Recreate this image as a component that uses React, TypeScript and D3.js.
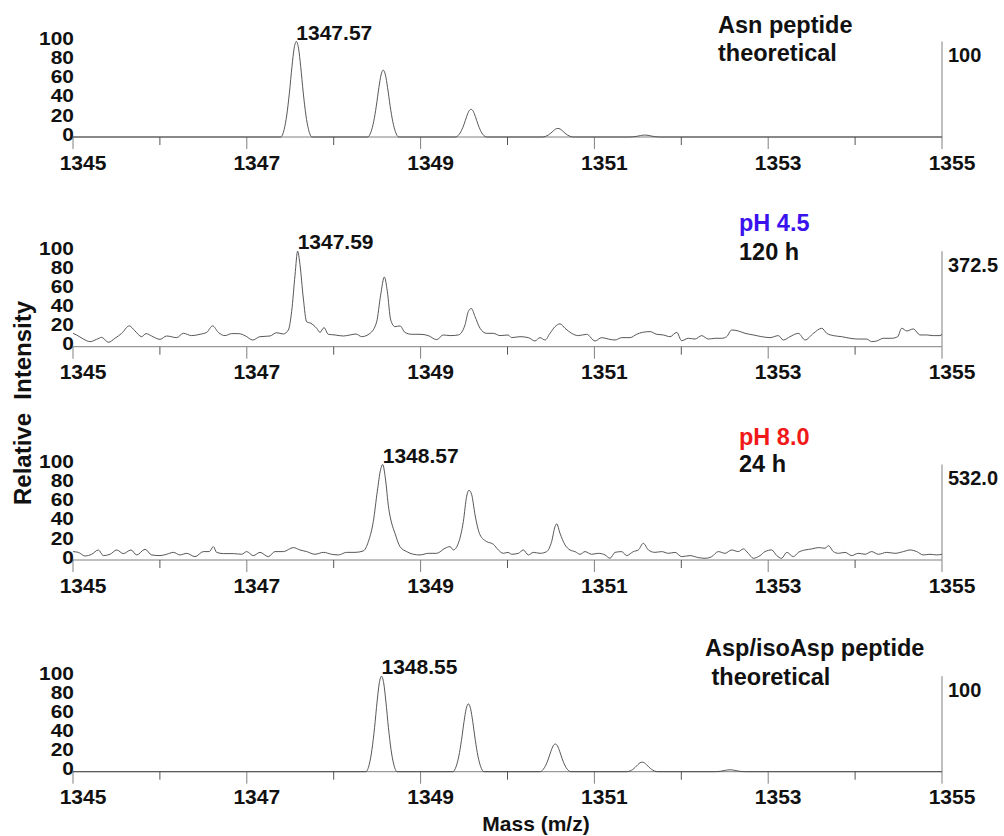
import React from 'react'
import * as d3 from 'd3'

// m/z axis
const massDomain: [number, number] = [1345, 1355]
const majorTicks = [1345, 1347, 1349, 1351, 1353, 1355]
const minorTicks = [1346, 1348, 1350, 1352, 1354]
const intensityTicks = [0, 20, 40, 60, 80, 100]

// theoretical isotope envelopes (centroid m/z, relative intensity)
const asnPeakMz = [1347.57, 1348.57, 1349.58, 1350.58, 1351.58]
const asnPeakInt = [100, 70, 29, 9, 2]
const aspPeakMz = [1348.55, 1349.55, 1350.55, 1351.55, 1352.56]
const aspPeakInt = [100, 71, 29, 10, 2]

// peak profile (offset in m/z, fraction of height)
const peakShapeOffset = [-0.18, -0.14, -0.11, -0.08, -0.05, -0.025, 0, 0.025, 0.05, 0.08, 0.11, 0.14, 0.18]
const peakShapeRel = [0, 0.08, 0.23, 0.46, 0.74, 0.93, 1, 0.93, 0.74, 0.46, 0.23, 0.08, 0]

// measured spectrum, pH 4.5 / 120 h
const ph45Trace: [number, number][] = [
  [1345.0, 14], [1345.042, 12.3], [1345.119, 8], [1345.196, 5.3], [1345.272, 7.7], [1345.33, 9.8],
  [1345.407, 4.6], [1345.483, 8.8], [1345.56, 14], [1345.648, 21.8], [1345.713, 16.5], [1345.79, 10.5],
  [1345.84, 13.7], [1345.905, 11.2], [1346.001, 7.7], [1346.078, 11.2], [1346.193, 9.5], [1346.27, 14],
  [1346.366, 11.6], [1346.461, 13], [1346.538, 15], [1346.607, 21.8], [1346.672, 15], [1346.749, 11.6],
  [1346.826, 13.7], [1346.903, 13.7], [1346.979, 11.6], [1347.068, 7], [1347.152, 10.5], [1347.267, 11.2],
  [1347.344, 14.7], [1347.42, 13.3], [1347.478, 17.5], [1347.516, 36.8], [1347.555, 75], [1347.585, 100],
  [1347.612, 86], [1347.65, 51], [1347.689, 26], [1347.735, 24.6], [1347.804, 19.3], [1347.842, 15],
  [1347.888, 20], [1347.938, 13], [1348.015, 12.3], [1348.111, 11.2], [1348.188, 12.3], [1348.257, 13.3],
  [1348.322, 10.5], [1348.418, 14], [1348.494, 26], [1348.54, 54], [1348.583, 73], [1348.617, 58],
  [1348.656, 28], [1348.705, 21], [1348.763, 21.8], [1348.82, 15], [1348.897, 13], [1348.993, 13],
  [1349.089, 11.6], [1349.185, 7.4], [1349.262, 12.3], [1349.338, 11.6], [1349.434, 12.3], [1349.511, 22.8],
  [1349.549, 36.8], [1349.584, 40], [1349.626, 31.6], [1349.684, 19.3], [1349.76, 14], [1349.837, 14],
  [1349.914, 11.6], [1350.006, 12.3], [1350.048, 9.5], [1350.144, 10.5], [1350.24, 9.5], [1350.316, 6],
  [1350.374, 9.5], [1350.432, 7], [1350.489, 14], [1350.547, 21], [1350.604, 23.9], [1350.662, 19.3],
  [1350.738, 14], [1350.815, 11.6], [1350.911, 13], [1351.007, 6], [1351.084, 9.5], [1351.16, 8],
  [1351.237, 7], [1351.314, 9.5], [1351.41, 9.5], [1351.486, 13], [1351.551, 15], [1351.64, 15.8],
  [1351.717, 13], [1351.793, 12.3], [1351.87, 10.5], [1351.947, 15], [1352.004, 6.3], [1352.081, 8.8],
  [1352.158, 8], [1352.234, 11.6], [1352.311, 8], [1352.388, 8.8], [1352.464, 8.8], [1352.522, 10.5],
  [1352.579, 17.5], [1352.656, 16.5], [1352.733, 14], [1352.829, 12.3], [1352.925, 10.5], [1353.021, 9.5],
  [1353.117, 11.6], [1353.174, 7], [1353.251, 10.5], [1353.347, 14], [1353.424, 7], [1353.52, 14],
  [1353.616, 19.3], [1353.674, 14], [1353.75, 11.6], [1353.846, 10.5], [1353.942, 8.8], [1354.037, 8],
  [1354.133, 8], [1354.191, 5.3], [1354.249, 6], [1354.325, 8.8], [1354.421, 8.8], [1354.49, 10.5],
  [1354.536, 19.3], [1354.594, 16.5], [1354.67, 18.6], [1354.747, 12.3], [1354.824, 12.3], [1354.9, 11.6],
  [1354.977, 11.6], [1355.0, 13],
]

// measured spectrum, pH 8.0 / 24 h
const ph80Trace: [number, number][] = [
  [1345.0, 8.8], [1345.061, 8], [1345.138, 4.2], [1345.215, 6], [1345.292, 10.5], [1345.349, 4.6],
  [1345.426, 6], [1345.503, 10.5], [1345.579, 6.7], [1345.667, 10.5], [1345.733, 5.3], [1345.829, 11.2],
  [1345.905, 5.3], [1346.001, 4.6], [1346.078, 6], [1346.155, 8], [1346.231, 5.3], [1346.308, 7],
  [1346.404, 3.5], [1346.5, 8.8], [1346.569, 8.8], [1346.615, 14], [1346.653, 8], [1346.73, 6.7],
  [1346.845, 6.7], [1346.941, 6], [1346.998, 8.8], [1347.075, 4.6], [1347.152, 8], [1347.248, 3.5],
  [1347.324, 8.8], [1347.42, 8.8], [1347.536, 13], [1347.612, 10.5], [1347.689, 8.8], [1347.785, 6],
  [1347.881, 8], [1347.977, 6], [1348.053, 5.3], [1348.149, 8], [1348.245, 8], [1348.341, 9.5],
  [1348.399, 19.3], [1348.456, 40.4], [1348.502, 72], [1348.54, 94.7], [1348.564, 100], [1348.594, 86],
  [1348.633, 54], [1348.667, 38.6], [1348.705, 28], [1348.763, 14], [1348.84, 8.8], [1348.916, 6],
  [1348.993, 5.3], [1349.089, 7], [1349.185, 7], [1349.281, 12.3], [1349.338, 14], [1349.377, 10.5],
  [1349.434, 17.5], [1349.492, 40.4], [1349.53, 66.7], [1349.557, 73], [1349.588, 68.4], [1349.626, 47.4],
  [1349.684, 26.3], [1349.76, 19.3], [1349.837, 16.5], [1349.895, 10.5], [1349.952, 7], [1350.006, 8],
  [1350.048, 6], [1350.125, 7], [1350.182, 10.5], [1350.24, 5.3], [1350.297, 8], [1350.374, 7],
  [1350.451, 8.8], [1350.508, 19.3], [1350.547, 35], [1350.566, 37.9], [1350.604, 28], [1350.662, 15.8],
  [1350.719, 10.5], [1350.777, 8.8], [1350.834, 6], [1350.892, 8.8], [1350.969, 6], [1351.045, 7],
  [1351.122, 5.3], [1351.18, 1.8], [1351.237, 8], [1351.314, 8.8], [1351.371, 4.6], [1351.448, 8.8],
  [1351.506, 10.5], [1351.563, 17.5], [1351.621, 10.5], [1351.697, 8], [1351.774, 8.8], [1351.851, 7],
  [1351.928, 8], [1352.004, 3.5], [1352.1, 4.6], [1352.196, 2.5], [1352.273, 1.8], [1352.349, 3.5],
  [1352.426, 8.8], [1352.503, 7], [1352.58, 10.5], [1352.656, 8.8], [1352.714, 11.6], [1352.771, 7],
  [1352.829, 1.8], [1352.906, 4.6], [1352.963, 8.8], [1353.04, 10.5], [1353.098, 4.6], [1353.155, 1.8],
  [1353.213, 8], [1353.29, 3.5], [1353.347, 8], [1353.424, 10.5], [1353.501, 11.6], [1353.578, 13],
  [1353.654, 12.3], [1353.693, 15], [1353.75, 8.8], [1353.808, 7], [1353.884, 8], [1353.961, 4.6],
  [1354.037, 7], [1354.114, 6], [1354.191, 8.8], [1354.267, 6], [1354.363, 8], [1354.459, 7],
  [1354.555, 8.8], [1354.632, 10.5], [1354.709, 8.8], [1354.785, 5.3], [1354.862, 6], [1354.939, 5.3],
  [1355.0, 6],
]

const FONT = '"Liberation Sans", Arial, sans-serif'
const W = 1004
const H = 836

function envelope(mz: number[], inten: number[]): [number, number][] {
  const pts: [number, number][] = [[massDomain[0], 0]]
  mz.forEach((m, i) => {
    peakShapeOffset.forEach((o, j) => pts.push([m + o, inten[i] * peakShapeRel[j]]))
  })
  pts.push([massDomain[1], 0])
  return pts
}

const panels = [
  {
    base: 137, trace: envelope(asnPeakMz, asnPeakInt), scaleLabel: '100',
    peakMz: asnPeakMz[0], peakLabel: '1347.57',
    titles: [
      { text: 'Asn peptide', x: 718, dy: -112, color: '#111' },
      { text: 'theoretical', x: 718, dy: -84, color: '#111' },
    ],
  },
  {
    base: 346.7, trace: ph45Trace, scaleLabel: '372.5',
    peakMz: 1347.585, peakLabel: '1347.59',
    titles: [
      { text: 'pH 4.5', x: 739, dy: -123.5, color: '#3a12ee' },
      { text: '120 h', x: 739, dy: -95, color: '#111' },
    ],
  },
  {
    base: 560, trace: ph80Trace, scaleLabel: '532.0',
    peakMz: 1348.564, peakLabel: '1348.57',
    titles: [
      { text: 'pH 8.0', x: 739, dy: -123, color: '#f01818' },
      { text: '24 h', x: 739, dy: -96, color: '#111' },
    ],
  },
  {
    base: 771.7, trace: envelope(aspPeakMz, aspPeakInt), scaleLabel: '100',
    peakMz: aspPeakMz[0], peakLabel: '1348.55',
    titles: [
      { text: 'Asp/isoAsp peptide', x: 705, dy: -123.5, color: '#111' },
      { text: ' theoretical', x: 705, dy: -95, color: '#111' },
    ],
  },
]

export default function App() {
  const x = d3.scaleLinear().domain(massDomain).range([73, 942])
  const panelHeight = 95.5

  return (
    <div style={{ position: 'absolute', left: 0, top: 0, background: '#fff' }}>
      <svg width={W} height={H} fontFamily={FONT} fontWeight="bold">
        <rect width={W} height={H} fill="#fff" />
        {panels.map((p, pi) => {
          const y = d3.scaleLinear().domain([0, 100]).range([p.base, p.base - panelHeight])
          const line = d3.line<[number, number]>()
            .x(d => x(d[0]))
            .y(d => y(d[1]))
            .curve(d3.curveMonotoneX)
          return (
            <g key={pi}>
              {/* x axis */}
              <line x1={x(massDomain[0])} x2={x(massDomain[1])} y1={p.base} y2={p.base} stroke="#808080" strokeWidth={1} />
              {majorTicks.map(t => (
                <line key={'M' + t} x1={x(t)} x2={x(t)} y1={p.base} y2={p.base + 12} stroke="#808080" />
              ))}
              {minorTicks.map(t => (
                <line key={'m' + t} x1={x(t)} x2={x(t)} y1={p.base} y2={p.base + 8} stroke="#555" />
              ))}
              {majorTicks.map(t => (
                <text key={'l' + t} x={x(t) + 10} y={p.base + 25} textAnchor="middle"
                  dominantBaseline="central" fontSize={21} fill="#111">{t}</text>
              ))}
              {/* left intensity labels */}
              {intensityTicks.map(v => (
                <text key={'y' + v} transform={`translate(74,${y(v) - 3}) scale(1.1,1)`}
                  textAnchor="end" dominantBaseline="central" fontSize={19} fill="#111">{v}</text>
              ))}
              {/* right scale bar */}
              <line x1={x(massDomain[1])} x2={x(massDomain[1])} y1={y(100)} y2={p.base} stroke="#808080" />
              <text x={948} y={p.base - 82} dominantBaseline="central" fontSize={20} fill="#111">{p.scaleLabel}</text>
              {/* spectrum */}
              <path d={line(p.trace) || ''} fill="none" stroke="#454545" strokeWidth={0.9} />
              <text x={x(p.peakMz)} y={p.base - 105} dominantBaseline="central" fontSize={21} fill="#111">{p.peakLabel}</text>
              {p.titles.map((t, ti) => (
                <text key={ti} x={t.x} y={p.base + t.dy} dominantBaseline="central" fontSize={23.5}
                  fill={t.color} style={{ whiteSpace: 'pre' }}>{t.text}</text>
              ))}
            </g>
          )
        })}
        <text transform="translate(22,403) rotate(-90)" textAnchor="middle" dominantBaseline="central"
          fontSize={24} fill="#111" style={{ whiteSpace: 'pre' }}>Relative  Intensity</text>
        <text x={536} y={823} textAnchor="middle" dominantBaseline="central" fontSize={21} fill="#111">Mass (m/z)</text>
      </svg>
    </div>
  )
}
